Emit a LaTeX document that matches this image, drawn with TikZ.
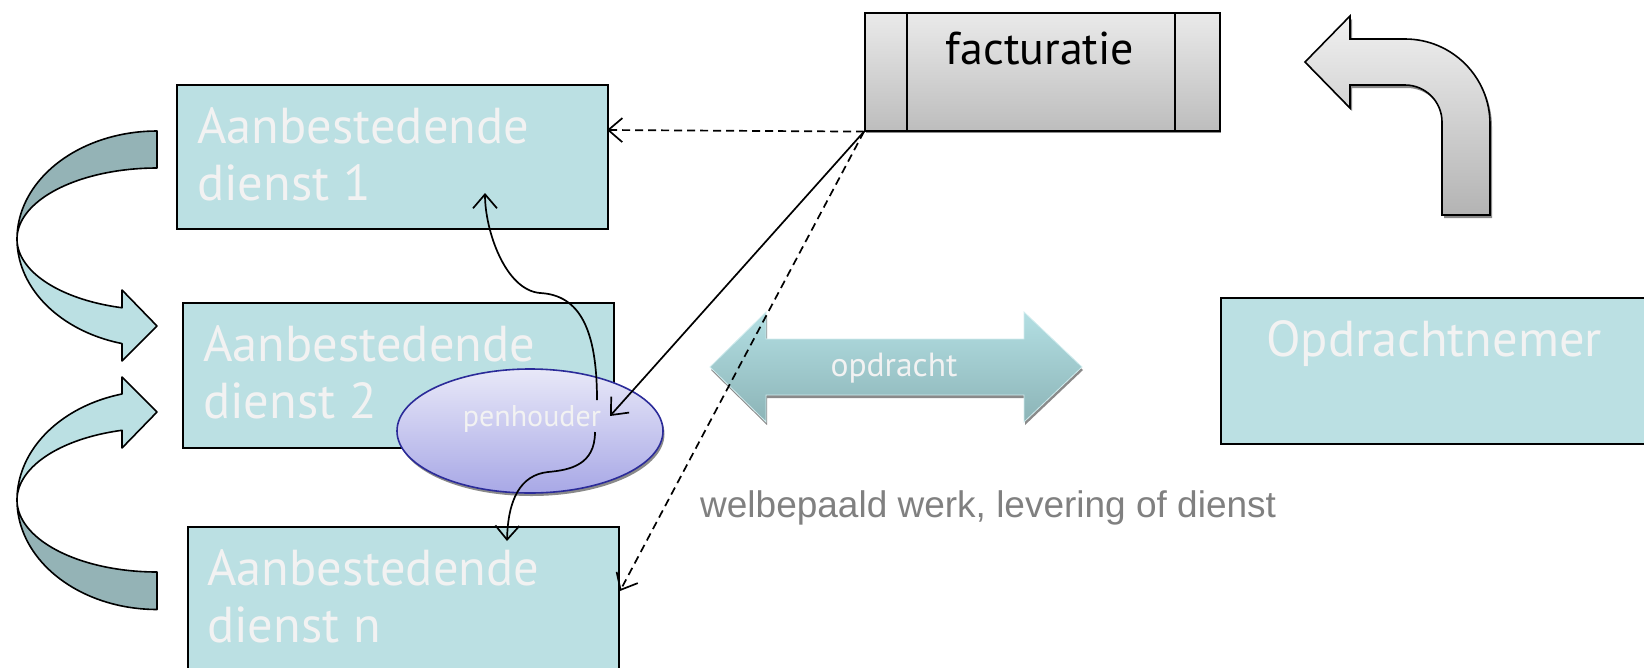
\documentclass[tikz,border=0pt]{standalone}
\usepackage{fontspec}
\setmainfont{PT Sans}
\newfontfamily\arialfont{Liberation Sans}
\usetikzlibrary{arrows.meta,calc,shapes.geometric}
\definecolor{boxfill}{HTML}{BBE0E3}
\definecolor{boxtext}{HTML}{F2F2F2}
\definecolor{darkband}{HTML}{94B3B6}
\definecolor{penborder}{HTML}{2B2B99}
\definecolor{pentop}{HTML}{E8E8F8}
\definecolor{penbot}{HTML}{A8A8E6}
\definecolor{dbltop}{HTML}{B3DFE3}
\definecolor{dblbot}{HTML}{8CB4B7}
\definecolor{greytop}{HTML}{EAEAEA}
\definecolor{greybot}{HTML}{BDBDBD}
\definecolor{shadowgrey}{HTML}{8A8A8A}
\definecolor{captiongrey}{HTML}{808080}
\begin{document}
\begin{tikzpicture}[x=1pt,y=-1pt,
  box/.style={draw=black, line width=1.8pt, fill=boxfill, inner sep=0pt, anchor=north west},
  boxtxt/.style={text=boxtext, font=\fontsize{50.5}{58}\selectfont, anchor=base west, inner sep=0pt},
  band/.style={draw=black, line width=1.6pt, line join=round},
  conn/.style={line width=1.7pt, -{Straight Barb[length=14pt,width=24pt]}},
  dashconn/.style={conn, dash pattern=on 8pt off 5pt}]
\useasboundingbox (0,0) rectangle (1644,667);
\clip (0,0) rectangle (1644,667);

% boxes
\node[box, minimum width=431pt, minimum height=144pt] (b1) at (176,84) {};
\node[box, minimum width=431pt, minimum height=145pt] (b2) at (182,302) {};
\node[box, minimum width=431pt, minimum height=180pt] (bn) at (187,526) {};
\node[box, minimum width=460pt, minimum height=146pt] (opn) at (1220,297) {};

\node[boxtxt] (t1a) at (197,143) {Aanbestedende};
\node[boxtxt] (t1b) at (197,200) {dienst 1};
\node[boxtxt] (t2a) at (203,361) {Aanbestedende};
\node[boxtxt] (t2b) at (203,418) {dienst 2};
\node[boxtxt] (tna) at (207,585) {Aanbestedende};
\node[boxtxt] (tnb) at (207,642) {dienst n};
\node[boxtxt] (topn) at (1266,356) {Opdrachtnemer};

% U-turn arrows on the left
% upper
\path[band, fill=darkband]
  plot[domain=270:180, samples=40] ({157+140*cos(\x)},{239+108*sin(\x)})
  -- plot[domain=180:270, samples=40] ({157+140*cos(\x)},{239+71*sin(\x)}) -- cycle;
\path[band, fill=boxfill]
  plot[domain=180:104.48, samples=40] ({157+140*cos(\x)},{239+108*sin(\x)})
  -- (122,361) -- (157,326) -- (122,290)
  -- plot[domain=104.48:180, samples=40] ({157+140*cos(\x)},{239+71*sin(\x)}) -- cycle;
% lower
\path[band, fill=boxfill]
  plot[domain=180:255.52, samples=40] ({157+140*cos(\x)},{500+109.5*sin(\x)})
  -- (122,377) -- (157,412) -- (122,448)
  -- plot[domain=255.52:180, samples=40] ({157+140*cos(\x)},{500+72*sin(\x)}) -- cycle;
\path[band, fill=darkband]
  plot[domain=180:90, samples=40] ({157+140*cos(\x)},{500+109.5*sin(\x)})
  -- plot[domain=90:180, samples=40] ({157+140*cos(\x)},{500+72*sin(\x)}) -- cycle;

% facturatie
\fill[shadowgrey] (866,130) rectangle (1221,133);
\node[draw=black, line width=1.6pt, top color=greytop, bottom color=greybot,
      minimum width=355pt, minimum height=118pt, inner sep=0pt, anchor=north west] (fact) at (864,12) {};
\draw[line width=1.6pt] (907,12) -- (907,130);
\draw[line width=1.6pt] (1175,12) -- (1175,130);
\node[anchor=base, inner sep=0pt, font=\fontsize{46}{52}\selectfont] (facttxt) at (1040,64) {facturatie};

% bent arrow (top right)
\fill[shadowgrey, shift={(2,3)}]
  (1305,62) -- (1350,16) -- (1350,39) -- (1405,39) .. controls (1452,39) and (1490,77) .. (1490,124)
  -- (1490,215) -- (1442,215) -- (1442,122) .. controls (1442,101.6) and (1425.4,85) .. (1405,85)
  -- (1350,85) -- (1350,108) -- cycle;
\path[draw=black, line width=1.6pt, line join=miter, top color=greytop!70!white, bottom color=greybot!95!black]
  (1305,62) -- (1350,16) -- (1350,39) -- (1405,39) .. controls (1452,39) and (1490,77) .. (1490,124)
  -- (1490,215) -- (1442,215) -- (1442,122) .. controls (1442,101.6) and (1425.4,85) .. (1405,85)
  -- (1350,85) -- (1350,108) -- cycle;

% double arrow "opdracht"
\fill[shadowgrey, shift={(1,3)}]
  (710,367) -- (766,312) -- (766,339) -- (1024,339) -- (1024,312) -- (1082,367)
  -- (1024,422) -- (1024,395) -- (766,395) -- (766,422) -- cycle;
\path[top color=dbltop, bottom color=dblbot, draw=dbltop!60!white, line width=0.8pt]
  (710,367) -- (766,312) -- (766,339) -- (1024,339) -- (1024,312) -- (1082,367)
  -- (1024,422) -- (1024,395) -- (766,395) -- (766,422) -- cycle;
\node[anchor=base, inner sep=0pt, text=boxtext, font=\fontsize{33.5}{38}\selectfont] (opdr) at (894,376) {opdracht};

% caption
\node[anchor=base west, inner sep=0pt, text=captiongrey, font=\arialfont\fontsize{37}{42}\selectfont] (capt) at (700,517) {welbepaald werk, levering of dienst};

% penhouder ellipse
\fill[shadowgrey] (531.5,434) ellipse [x radius=133, y radius=62];
\node[ellipse, draw=penborder, line width=1.6pt, top color=pentop, bottom color=penbot,
      minimum width=266pt, minimum height=124pt, inner sep=0pt] (pen) at (530,431) {};
\node[anchor=base, inner sep=0pt, text=boxtext, font=\fontsize{30}{34}\selectfont] (pentxt) at (532,426) {penhouder};

% connector end points
\coordinate (c1in) at (607,130);
\coordinate (penin) at (610,416);
\coordinate (bnin) at (620,591);
\coordinate (penup) at (597,400);
\coordinate (pendown) at (595,432);
\coordinate (b1low) at (485,193);
\coordinate (bntop) at (507,541);

\draw[dashconn] (fact.south west) -- (c1in);
\draw[conn] (fact.south west) -- (penin);
\draw[dashconn] (fact.south west) -- (bnin);
\draw[conn] (penup) .. controls (597,330) and (580,295) .. (540,293)
               .. controls (505,290) and (485,230) .. (b1low);
\draw[conn] (pendown) .. controls (595,465) and (570,470) .. (548,472)
               .. controls (520,475) and (508,500) .. (bntop);
\end{tikzpicture}
\end{document}
